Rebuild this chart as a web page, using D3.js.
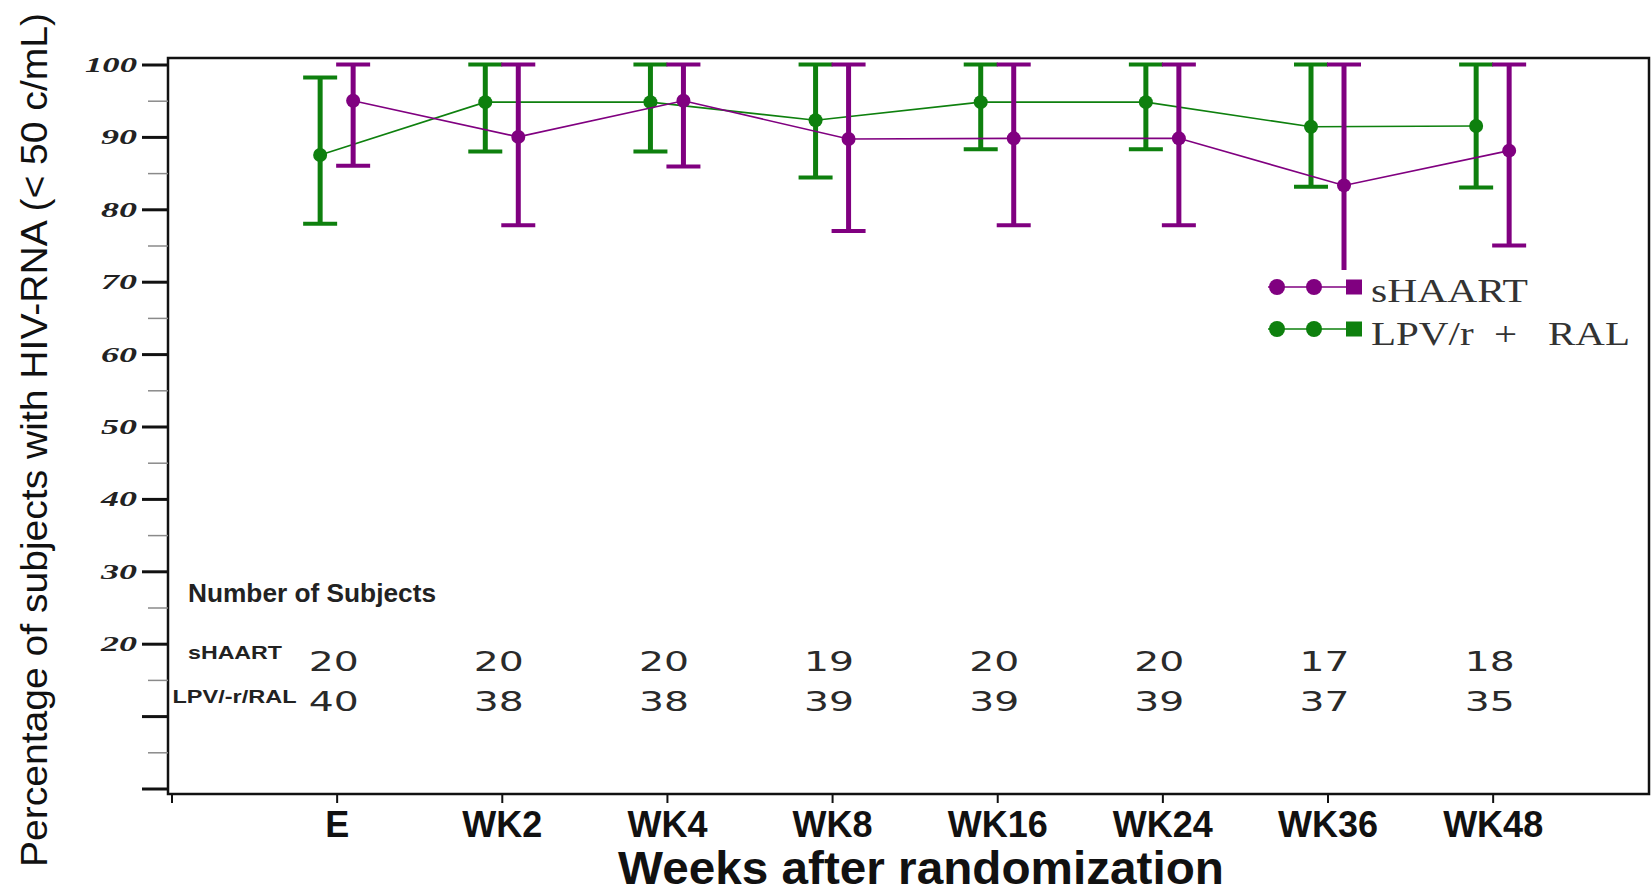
<!DOCTYPE html>
<html>
<head>
<meta charset="utf-8">
<script src="https://cdn.jsdelivr.net/npm/d3@7"></script>
<style>
  body { margin: 0; background: #fff; }
  svg { display: block; }
</style>
</head>
<body>
<svg id="chart" width="1652" height="895"></svg>
<script>
// Visits after randomization
const visits = ["E", "WK2", "WK4", "WK8", "WK16", "WK24", "WK36", "WK48"];

// sHAART: percentage with HIV-RNA < 50 c/mL and 95% CI
const shaartMean = [95, 90, 95, 89.7, 89.8, 89.8, 83.3, 88.1];
const shaartLow  = [86, 77.8, 85.9, 77, 77.8, 77.8, 71, 75];
const shaartHigh = [100, 100, 100, 100, 100, 100, 100, 100];

// LPV/r + RAL: percentage with HIV-RNA < 50 c/mL and 95% CI
const lpvMean = [87.5, 94.8, 94.8, 92.3, 94.8, 94.8, 91.4, 91.5];
const lpvLow  = [78, 88, 88, 84.4, 88.3, 88.3, 83.1, 83];
const lpvHigh = [98.2, 100, 100, 100, 100, 100, 100, 100];

// Number of subjects per visit
const shaartN = [20, 20, 20, 19, 20, 20, 17, 18];
const lpvN    = [40, 38, 38, 39, 39, 39, 37, 35];

// Axis ticks
const yMajorTicks = [0, 10, 20, 30, 40, 50, 60, 70, 80, 90, 100];
const yMinorTicks = [5, 15, 25, 35, 45, 55, 65, 75, 85, 95];
const yLabelFrom = 20;

const PURPLE = "#800080";
const GREEN = "#0e800e";

const svg = d3.select("#chart");

// visit index 1..8 (0 is the origin tick)
const x = d3.scaleLinear().domain([0, 9]).range([171.5, 1657.8]);
const y = d3.scaleLinear().domain([0, 100]).range([788.5, 64.5]);

const plotLeft = 168, plotTop = 58, plotRight = 1649, plotBottom = 794;

// frame
svg.append("rect")
  .attr("x", plotLeft).attr("y", plotTop)
  .attr("width", plotRight - plotLeft).attr("height", plotBottom - plotTop)
  .attr("fill", "none").attr("stroke", "#111").attr("stroke-width", 2.5);

// minor y ticks
const yMinor = svg.append("g").attr("transform", `translate(${plotLeft},0)`)
  .call(d3.axisLeft(y).tickValues(yMinorTicks).tickSize(20).tickFormat(""));
yMinor.select(".domain").remove();
yMinor.selectAll("line").attr("stroke", "#8a8a8a").attr("stroke-width", 1.5);

// major y ticks
const yAxis = svg.append("g").attr("transform", `translate(${plotLeft},0)`)
  .call(d3.axisLeft(y).tickValues(yMajorTicks).tickSize(26).tickPadding(5)
    .tickFormat(d => d >= yLabelFrom ? d : ""));
yAxis.select(".domain").remove();
yAxis.selectAll("line").attr("stroke", "#111").attr("stroke-width", 3);
yAxis.selectAll("text")
  .attr("font-family", "'Liberation Serif', 'Times New Roman', serif")
  .attr("font-style", "italic").attr("font-weight", "bold")
  .attr("font-size", 22).attr("fill", "#222")
  .attr("textLength", d => d >= 100 ? 52 : 36)
  .attr("lengthAdjust", "spacingAndGlyphs");

// x axis
const xAxis = svg.append("g").attr("transform", `translate(0,${plotBottom})`)
  .call(d3.axisBottom(x).tickValues(d3.range(0, 9)).tickSize(9)
    .tickFormat(i => i ? visits[i - 1] : ""));
xAxis.select(".domain").remove();
xAxis.selectAll("line").attr("stroke", "#111").attr("stroke-width", 2);
xAxis.selectAll("text")
  .attr("y", 43).attr("dy", 0)
  .attr("font-family", "'Liberation Sans', Arial, sans-serif")
  .attr("font-weight", "bold").attr("font-size", 36).attr("fill", "#111");

// axis titles
svg.append("text")
  .attr("x", 921).attr("y", 884)
  .attr("text-anchor", "middle")
  .attr("font-family", "'Liberation Sans', Arial, sans-serif")
  .attr("font-weight", "bold").attr("font-size", 47).attr("fill", "#111")
  .attr("textLength", 606).attr("lengthAdjust", "spacingAndGlyphs")
  .text("Weeks after randomization");

svg.append("text")
  .attr("transform", "translate(47,440) rotate(-90)")
  .attr("text-anchor", "middle")
  .attr("font-family", "'Liberation Sans', Arial, sans-serif")
  .attr("font-size", 37).attr("fill", "#111")
  .attr("textLength", 854).attr("lengthAdjust", "spacingAndGlyphs")
  .text("Percentage of subjects with HIV-RNA (< 50 c/mL)");

// series with error bars
const series = [
  { name: "LPV/r + RAL", color: GREEN, offset: -16.5, mean: lpvMean, low: lpvLow, high: lpvHigh },
  { name: "sHAART", color: PURPLE, offset: 16.5, mean: shaartMean, low: shaartLow, high: shaartHigh }
];

const capHalf = 17;
series.forEach(s => {
  const pts = visits.map((v, i) => ({ i, cx: x(i + 1) + s.offset, m: s.mean[i], lo: s.low[i], hi: s.high[i] }));
  const g = svg.append("g");

  g.append("path")
    .datum(pts)
    .attr("fill", "none").attr("stroke", s.color).attr("stroke-width", 1.6)
    .attr("d", d3.line().x(d => d.cx).y(d => y(d.m)));

  const bars = g.selectAll(".bar").data(pts).join("g").attr("class", "bar");
  bars.append("line")
    .attr("x1", d => d.cx).attr("x2", d => d.cx)
    .attr("y1", d => y(d.lo)).attr("y2", d => y(d.hi))
    .attr("stroke", s.color).attr("stroke-width", 5);
  bars.append("line")
    .attr("x1", d => d.cx - capHalf).attr("x2", d => d.cx + capHalf)
    .attr("y1", d => y(d.hi)).attr("y2", d => y(d.hi))
    .attr("stroke", s.color).attr("stroke-width", 4);
  bars.append("line")
    .attr("x1", d => d.cx - capHalf).attr("x2", d => d.cx + capHalf)
    .attr("y1", d => y(d.lo)).attr("y2", d => y(d.lo))
    .attr("stroke", s.color).attr("stroke-width", 4);
  bars.append("circle")
    .attr("cx", d => d.cx).attr("cy", d => y(d.m)).attr("r", 7)
    .attr("fill", s.color);
});

// legend
const legend = svg.append("g");
legend.append("rect")
  .attr("x", 1262).attr("y", 270).attr("width", 384).attr("height", 85)
  .attr("fill", "#fff");
const legendRows = [
  { name: "sHAART", color: PURPLE, y: 287, baseline: 302, len: 157 },
  { name: "LPV/r  +   RAL", color: GREEN, y: 329, baseline: 345, len: 259 }
];
legendRows.forEach(r => {
  legend.append("line")
    .attr("x1", 1268).attr("x2", 1362).attr("y1", r.y).attr("y2", r.y)
    .attr("stroke", r.color).attr("stroke-width", 1.6);
  [1277, 1314].forEach(cx => legend.append("circle")
    .attr("cx", cx).attr("cy", r.y).attr("r", 8).attr("fill", r.color));
  legend.append("rect")
    .attr("x", 1346).attr("y", r.y - 7.5).attr("width", 16).attr("height", 15)
    .attr("fill", r.color);
  legend.append("text")
    .attr("x", 1371).attr("y", r.baseline)
    .attr("xml:space", "preserve")
    .style("white-space", "pre")
    .attr("font-family", "'Liberation Serif', 'Times New Roman', serif")
    .attr("font-size", 34).attr("fill", "#333")
    .attr("textLength", r.len).attr("lengthAdjust", "spacingAndGlyphs")
    .text(r.name);
});

// number of subjects table
const table = svg.append("g")
  .attr("font-family", "'Liberation Sans', Arial, sans-serif")
  .attr("font-weight", "bold").attr("fill", "#222");
table.append("text")
  .attr("x", 188).attr("y", 602).attr("font-size", 25)
  .attr("textLength", 248).attr("lengthAdjust", "spacingAndGlyphs")
  .text("Number of Subjects");
table.append("text")
  .attr("x", 188).attr("y", 659).attr("font-size", 19)
  .attr("textLength", 94).attr("lengthAdjust", "spacingAndGlyphs")
  .text("sHAART");
table.append("text")
  .attr("x", 172.5).attr("y", 703).attr("font-size", 18)
  .attr("textLength", 124).attr("lengthAdjust", "spacingAndGlyphs")
  .text("LPV/-r/RAL");

const countRows = [
  { values: shaartN, baseline: 671 },
  { values: lpvN, baseline: 711 }
];
countRows.forEach(row => {
  svg.append("g").selectAll("text").data(row.values).join("text")
    .attr("x", (d, i) => x(i + 1) - 3)
    .attr("y", row.baseline)
    .attr("text-anchor", "middle")
    .attr("font-family", "'DejaVu Sans', Verdana, sans-serif")
    .attr("font-size", 27).attr("fill", "#2a2a2a")
    .attr("textLength", 50).attr("lengthAdjust", "spacingAndGlyphs")
    .text(d => d);
});
</script>
</body>
</html>
